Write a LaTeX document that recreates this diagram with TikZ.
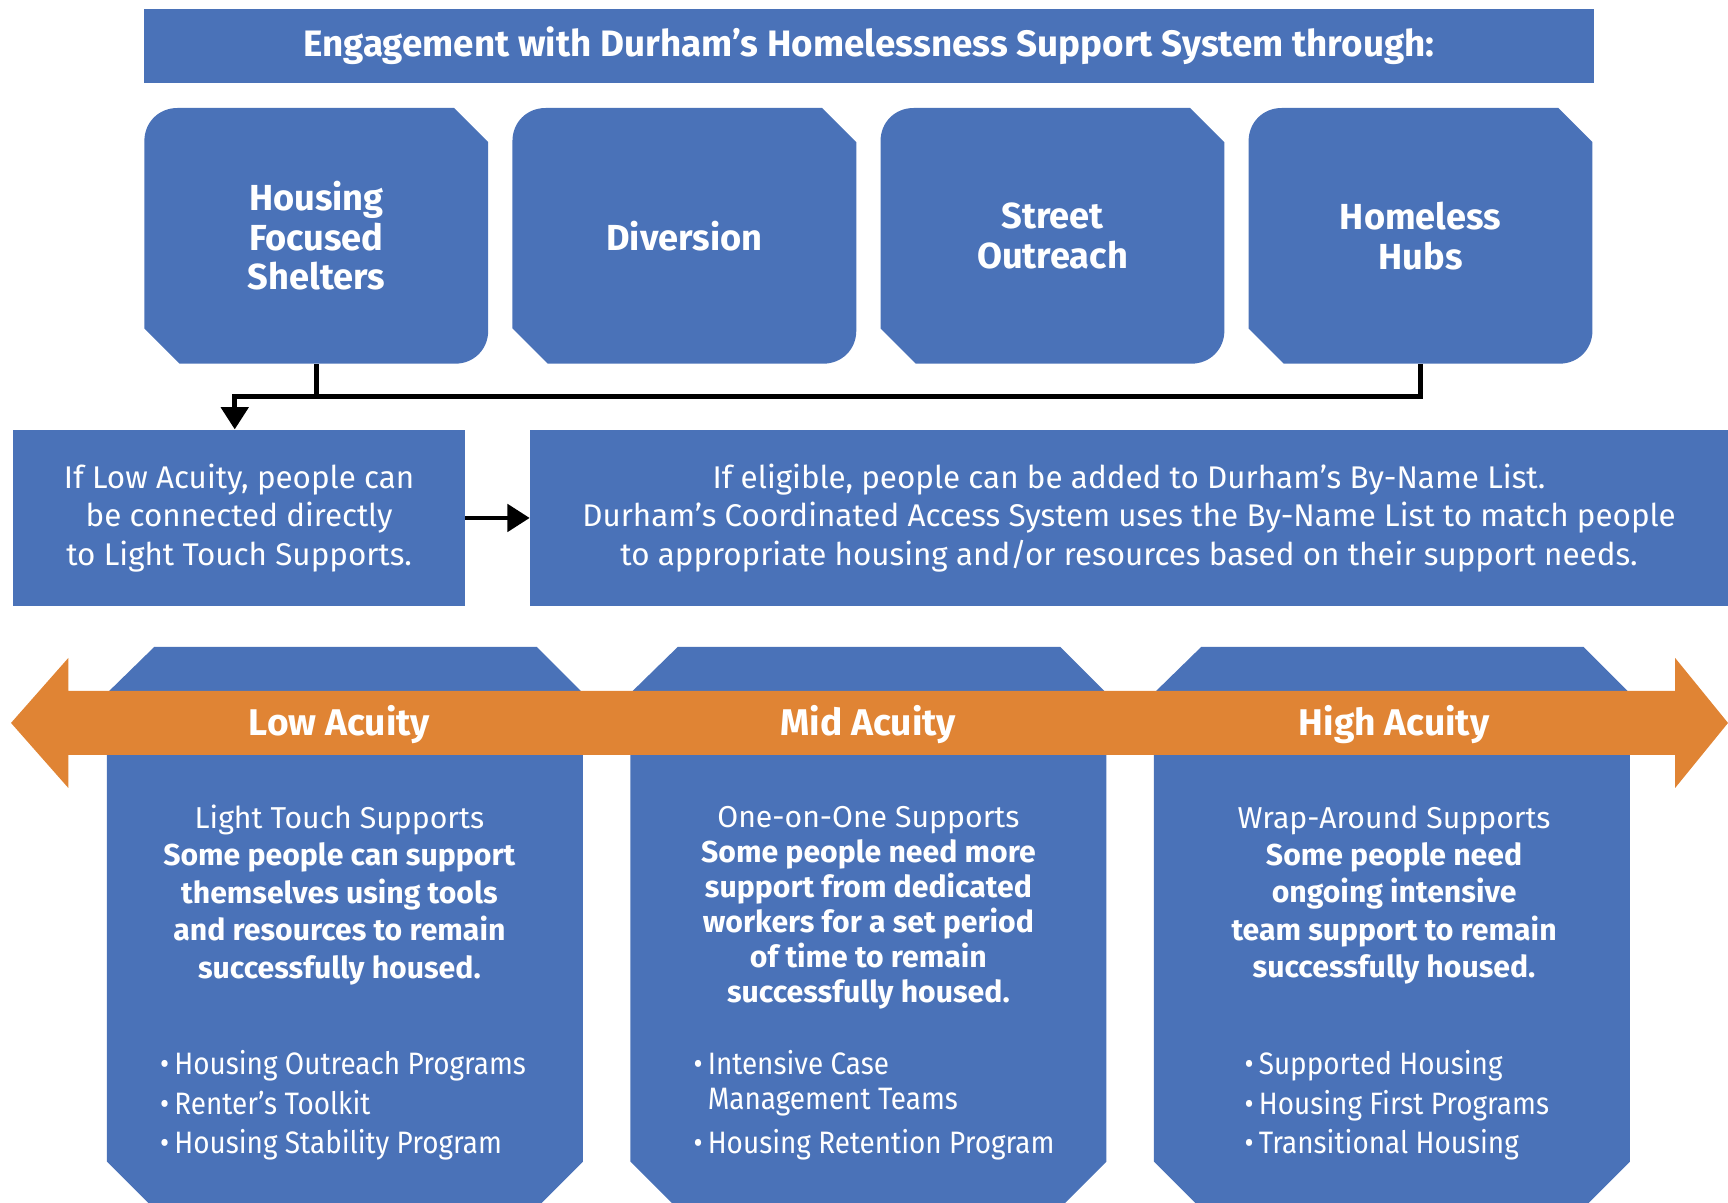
\documentclass[tikz,border=0pt]{standalone}
\usepackage{fontspec}
\setmainfont{Fira Sans}
\newfontfamily\listfont{Fira Sans}[FakeStretch=0.9]
\usetikzlibrary{arrows.meta,calc}
\definecolor{durblue}{RGB}{74,114,184}
\definecolor{durorange}{RGB}{224,132,52}

\begin{document}
\begin{tikzpicture}[x=0.2mm,y=-0.2mm,
  every node/.style={text=white,align=center,inner sep=0},
  titlebar/.style={fill=durblue,minimum width=263mm,minimum height=13.4mm,
    font=\bfseries\fontsize{19}{22}\selectfont},
  topbox/.style={minimum width=62.4mm,minimum height=46.4mm,
    font=\bfseries\fontsize{18.7}{20.5}\selectfont,
    path picture={\fill[durblue]
      ($(path picture bounding box.north west)+(0,30)$)
      .. controls ($(path picture bounding box.north west)+(0,13)$)
      and ($(path picture bounding box.north west)+(13,0)$) ..
      ($(path picture bounding box.north west)+(30,0)$)
      -- ($(path picture bounding box.north east)+(-31,0)$)
      -- ($(path picture bounding box.north east)+(0,31)$)
      -- ($(path picture bounding box.south east)+(0,-30)$)
      .. controls ($(path picture bounding box.south east)+(0,-13)$)
      and ($(path picture bounding box.south east)+(-13,0)$) ..
      ($(path picture bounding box.south east)+(-30,0)$)
      -- ($(path picture bounding box.south west)+(32,0)$)
      -- ($(path picture bounding box.south west)+(0,-32)$) -- cycle;}},
  infobox/.style={fill=durblue,minimum height=32mm,
    font=\fontsize{16.2}{19.9}\selectfont},
  acuity/.style={font=\bfseries\fontsize{19.2}{21}\selectfont},
  coltext/.style={font=\fontsize{15.6}{19.3}\selectfont},
  bullets/.style={anchor=west,align=left,font=\listfont\fontsize{16}{20.5}\selectfont},
  line/.style={line width=2.4pt},
  arr/.style={line,-{Triangle[width=14pt,length=11.5pt]}}]
\useasboundingbox (0,0) rectangle (1568,1091);
\clip (0,0) rectangle (1568,1091);

\node[titlebar] (title) at (788.5,41.5)
  {Engagement with Durham’s Homelessness Support System through:};

\node[topbox] (hfs) at (287,214) {Housing\\Focused\\Shelters};
\node[topbox] (div) at (621,214) {Diversion};
\node[topbox] (street) at (955,214) {Street\\Outreach};
\node[topbox] (hubs) at (1289,214) {Homeless\\Hubs};

\node[infobox,minimum width=82mm] (lowinfo) at (217,470)
  {If Low Acuity, people can\\be connected directly\\to Light Touch Supports.};
\node[infobox,minimum width=217.4mm] (elig) at (1024.5,470)
  {If eligible, people can be added to Durham’s By-Name List.\\
   Durham’s Coordinated Access System uses the By-Name List to match people\\
   to appropriate housing and/or resources based on their support needs.};

\coordinate (split) at (213,360);
\draw[line] (hfs.south) -- (hfs.south |- split);
\draw[arr] (hubs.south) |- (split) -- (split |- lowinfo.north);
\draw[arr] (lowinfo.east) -- (elig.west);

% acuity columns
\foreach \x in {97,572,1047}
  \fill[durblue] (\x+43,587) -- (\x+390,587) -- (\x+432,629) -- (\x+432,1054)
    -- (\x+387,1099) -- (\x+45,1099) -- (\x,1054) -- (\x,629) -- cycle;
\fill[durorange] (10,656) -- (62,597) -- (62,627) -- (1520,627) -- (1520,597)
  -- (1568,656) -- (1520,715) -- (1520,685) -- (62,685) -- (62,715) -- cycle;

\node[acuity] (low) at (308,657) {Low Acuity};
\node[acuity] (mid) at (788,657) {Mid Acuity};
\node[acuity] (high) at (1265,657) {High Acuity};

\node[coltext] (lowtxt) at (308,812) {Light Touch Supports\\
  \textbf{Some people can support}\\\textbf{themselves using tools}\\
  \textbf{and resources to remain}\\\textbf{successfully housed.}};
\node[coltext,font=\fontsize{15.6}{18.1}\selectfont] (midtxt) at (788,824)
  {One-on-One Supports\\\textbf{Some people need more}\\
  \textbf{support from dedicated}\\\textbf{workers for a set period}\\
  \textbf{of time to remain}\\\textbf{successfully housed.}};
\node[coltext] (hightxt) at (1265,812) {Wrap-Around Supports\\
  \textbf{Some people need}\\\textbf{ongoing intensive}\\
  \textbf{team support to remain}\\\textbf{successfully housed.}};

\node[bullets] (lowlist) at (145,1003) {•\,Housing Outreach Programs\\
  •\,Renter’s Toolkit\\•\,Housing Stability Program};
\node[bullets,font=\listfont\fontsize{16}{18.2}\selectfont] (midlist) at (629,1003)
  {•\,Intensive Case\\\hphantom{•\,}Management Teams\\[4.5pt]•\,Housing Retention Program};
\node[bullets] (highlist) at (1129,1003) {•\,Supported Housing\\
  •\,Housing First Programs\\•\,Transitional Housing};
\end{tikzpicture}
\end{document}
